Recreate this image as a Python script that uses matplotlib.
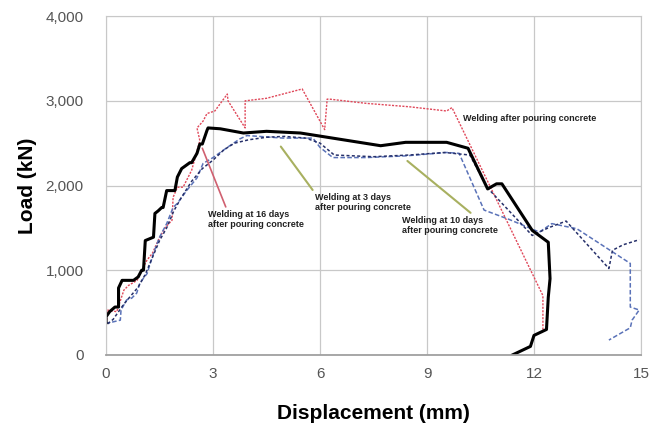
import numpy as np
import matplotlib
matplotlib.use("Agg")
import matplotlib.pyplot as plt
from matplotlib.ticker import FuncFormatter

plt.rcParams['font.family'] = ['Liberation Sans', 'DejaVu Sans']

# Load-displacement curves (mm, kN)
after_x = [0, 0, 0.03, 0.3, 0.5, 0.63, 0.87, 1.0, 1.15, 1.3, 1.46, 1.65, 1.85, 1.88, 2.0, 2.16,
           2.4, 2.5, 2.63, 2.55, 2.72, 2.83, 3.05, 3.4, 3.42, 3.9, 3.9, 4.5, 5.5, 6.13, 6.2, 6.27,
           7.3, 8.5, 9.55, 9.7, 12.25, 12.25, 12.2]
after_y = [0, 300, 530, 510, 765, 820, 880, 1000, 1120, 1200, 1350, 1500, 1590, 1860, 1980, 1980,
           2180, 2330, 2530, 2680, 2760, 2850, 2880, 3080, 3000, 2680, 3000, 3030, 3140, 2660, 3020, 3020,
           2970, 2930, 2880, 2920, 700, 290, 250]

d16_x = [0, 0, 0.1, 0.25, 0.35, 0.35, 0.45, 0.77, 0.9, 1.0, 1.05, 1.1, 1.33, 1.37, 1.46, 1.56, 1.6, 1.7,
         1.93, 2.0, 2.12, 2.35, 2.4, 2.55, 2.63, 2.7, 2.83, 2.86, 3.2, 3.85, 4.5, 5.45, 6.35, 7.7, 8.4, 9.55,
         10.15, 10.7, 10.95, 11.1, 11.95, 12.4, 12.45, 12.4, 12.35, 12.0, 11.9, 11.4]
d16_y = [380, 450, 510, 565, 565, 790, 880, 880, 920, 1000, 1000, 1350, 1390, 1670, 1700, 1740, 1740, 1940,
         1940, 2100, 2200, 2270, 2270, 2380, 2490, 2490, 2650, 2680, 2670, 2620, 2640, 2620, 2560, 2470, 2510, 2510,
         2440, 1960, 2020, 2020, 1470, 1330, 900, 680, 300, 230, 100, 0]

d3_x = [0, 0, 0.1, 0.4, 0.42, 0.58, 0.72, 0.86, 0.95, 1.15, 1.33, 1.5, 1.7, 1.88, 2.0, 2.26,
        2.55, 2.72, 3.0, 3.4, 3.75, 3.95, 4.96, 5.8, 6.0, 6.36, 7.3, 8.4, 9.55, 9.9, 10.6, 11.3,
        12.15, 12.5, 13.2, 14.7, 14.7, 14.95, 14.75, 14.7, 14.1]
d3_y = [290, 380, 380, 410, 530, 650, 670, 730, 850, 960, 1200, 1390, 1550, 1740, 1790, 1940,
        2090, 2260, 2330, 2450, 2550, 2590, 2560, 2560, 2450, 2330, 2330, 2350, 2390, 2380, 1710, 1600,
        1450, 1550, 1490, 1080, 565, 530, 410, 320, 175]

d10_x = [0, 0, 0.2, 0.5, 0.7, 0.9, 1.1, 1.3, 1.5, 1.7, 1.9, 2.1, 2.4, 2.7, 3.0, 3.3, 3.6, 4.0,
         4.5, 5.0, 5.6, 6.0, 6.4, 7.5, 8.5, 9.5, 10.2, 10.7, 11.95, 12.4, 12.9, 14.1, 14.2, 14.5, 14.95]
d10_y = [250, 350, 420, 600, 700, 800, 950, 1150, 1350, 1500, 1700, 1850, 2050, 2200, 2300, 2420, 2500, 2540,
         2570, 2580, 2560, 2500, 2360, 2340, 2360, 2390, 2360, 1970, 1410, 1500, 1580, 1020, 1235, 1300, 1360]

x_ticks = [0, 3, 6, 9, 12, 15]
y_ticks = [0, 1000, 2000, 3000, 4000]

fig = plt.figure(figsize=(6.67, 4.25), dpi=100)
ax = fig.add_axes([0.159, 0.165, 0.802, 0.797])

ax.plot(after_x, after_y, color='#e0485a', lw=1.0, ls=(0, (1.5, 1)))
ax.plot(d3_x, d3_y, color='#5a72b8', lw=1.1, ls=(0, (3, 1.5)))
ax.plot(d10_x, d10_y, color='#26306a', lw=1.1, ls=(0, (2, 1.5)))
ax.plot(d16_x, d16_y, color='black', lw=2.2)

ax.set_xlim(0, 15)
ax.set_ylim(0, 4000)
ax.set_xticks(x_ticks)
ax.set_yticks(y_ticks)
ax.yaxis.set_major_formatter(FuncFormatter(lambda v, p: f'{int(v):,}'))
ax.tick_params(length=0, labelsize=11, labelcolor='#555555')
ax.tick_params(axis='y', pad=16)
ax.tick_params(axis='x', pad=9)
ax.grid(True, color='#c8c8c8', lw=0.9)
for s in ax.spines.values():
    s.set_color('#c8c8c8')
ax.spines['bottom'].set_color('#a0a0a0')
ax.spines['bottom'].set_linewidth(1.3)

ax.set_xlabel('Displacement (mm)', fontsize=15, fontweight='bold', labelpad=16)
ax.set_ylabel('Load (kN)', fontsize=15, fontweight='bold', labelpad=6)

txt = dict(fontsize=6.5, fontweight='bold', color='#222222')
ax.text(10.0, 2790, 'Welding after pouring concrete', va='center', **txt)
ax.annotate('Welding at 16 days\nafter pouring concrete', xy=(2.7, 2440), xytext=(2.85, 1600),
            va='center', arrowprops=dict(arrowstyle='-', color='#d06070', lw=1.2,
                                         shrinkA=0, shrinkB=0, relpos=(0.2, 1.0)), **txt)
ax.annotate('Welding at 3 days\nafter pouring concrete', xy=(4.9, 2460), xytext=(5.85, 1800),
            va='center', arrowprops=dict(arrowstyle='-', color='#a8b060', lw=1.5,
                                         shrinkA=0, shrinkB=0, relpos=(0.0, 1.0)), **txt)
ax.annotate('Welding at 10 days\nafter pouring concrete', xy=(8.45, 2290), xytext=(8.3, 1530),
            va='center', arrowprops=dict(arrowstyle='-', color='#a8b060', lw=1.5,
                                         shrinkA=0, shrinkB=0, relpos=(0.75, 1.0)), **txt)

fig.savefig('out.png', dpi=100)
